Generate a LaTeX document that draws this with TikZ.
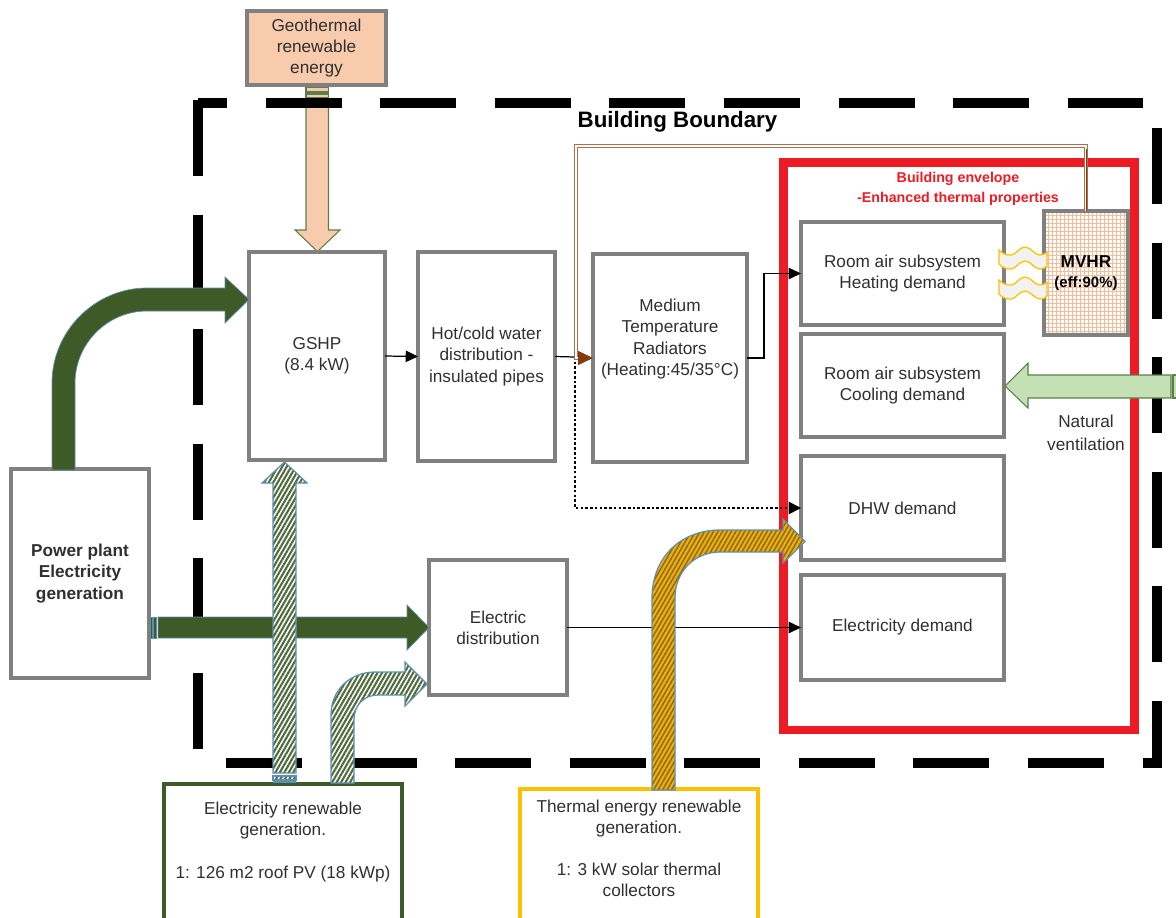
\documentclass[tikz,border=0pt]{standalone}
\usepackage{fontspec}
\setmainfont{Liberation Sans}
\usetikzlibrary{patterns.meta,arrows.meta}
\definecolor{txt}{HTML}{303030}
\definecolor{boxgray}{HTML}{808080}
\definecolor{peach}{HTML}{F8CBAD}
\definecolor{dkgreen}{HTML}{3D5A27}
\definecolor{ltgreen}{HTML}{C5E0B4}
\definecolor{arrowedge}{HTML}{5B7F4A}
\definecolor{blueedge}{HTML}{5F8FB0}
\definecolor{redframe}{HTML}{ED1C24}
\definecolor{gold}{HTML}{FFC000}
\definecolor{goldbase}{HTML}{EDAE10}
\definecolor{goldline}{HTML}{8A6A10}
\definecolor{brownc}{HTML}{843C0C}
\definecolor{tanc}{HTML}{A9714B}
\definecolor{gridc}{HTML}{F6BE98}
\tikzset{
  boxn/.style={draw=boxgray,line width=1.9pt,inner sep=0pt,outer sep=0pt,fill=white,align=center,text=txt,font=\fontsize{9.8}{12}\selectfont},
  lbl/.style={inner sep=0pt,align=center,text=txt,font=\fontsize{9.8}{12}\selectfont},
  boundary/.style={line width=5.5pt,black,dash pattern=on 43.25pt off 21.96pt},
  conn/.style={black,line width=0.7pt,-{Triangle[length=7pt,width=6.5pt]}},
  connplain/.style={black,line width=0.7pt},
  peacharrow/.style={fill=peach,draw=arrowedge,line width=0.6pt},
  greenarrow/.style={fill=ltgreen,draw=arrowedge,line width=0.6pt},
  darkarrow/.style={fill=dkgreen,draw=blueedge,line width=0.4pt},
  hatchgreen/.style={pattern={Lines[angle=60,distance=2.2pt,line width=1.2pt]},pattern color=dkgreen!90,draw=blueedge,line width=0.7pt},
  hatchgold/.style={pattern={Lines[angle=60,distance=2.2pt,line width=0.8pt]},pattern color=goldline,draw=blueedge,line width=0.7pt},
  wave/.style={fill=white!95!black,draw=gold,line width=0.7pt},
  gridline/.style={gridc,line width=0.35pt},
}
\newcommand{\bx}[7][]{\node[boxn,#1,minimum width={(#5-#3)*0.02cm},minimum height={(#6-#4)*0.02cm}] (#2) at ({(#3+#5)/2},{(#4+#6)/2}) {#7};}
\begin{document}
\begin{tikzpicture}[x=0.02cm,y=-0.02cm]
\clip (0,0) rectangle (1176,917);
\fill[white] (0,0) rectangle (1176,917);

% geothermal arrow lies under the boundary
\draw[peacharrow] (306,98) -- (306,230) -- (295,230) -- (317.5,251.5) -- (340,230) -- (328.5,230) -- (328.5,98) -- cycle;
\draw[peacharrow] (306,87) rectangle (328.5,92);
\draw[peacharrow] (306,94) rectangle (328.5,98);

% building boundary
\coordinate (bTL) at (198,103);
\coordinate (bTR) at (1143,103);
\coordinate (bBL) at (226,763);
\coordinate (bBR) at (1162,763);
\coordinate (bRT) at (1157,128);
\coordinate (bRB) at (1157,767);
\coordinate (bLB) at (198,760);
\draw[boundary,dash phase=26.7pt] (bTL) -- (bTR);
\draw[boundary] (198,100) -- (bLB);
\draw[boundary] (bBL) -- (bBR);
\draw[boundary] (bRT) -- (bRB);

% envelope
\draw[redframe,line width=5pt] (783.5,162.5) rectangle (1134.5,730);

% boxes
\bx[fill=peach]{geo}{247}{11}{386}{85}{Geothermal\\renewable\\energy}
\bx{gshp}{249}{252}{385}{460}{GSHP\\(8.4 kW)}
\bx{hot}{418}{252}{555}{461}{Hot/cold water\\distribution -\\insulated pipes}
\bx{med}{593}{254}{747}{462}{}
\node[lbl] (medtext) at (670,339) {Medium\\Temperature\\Radiators\\(Heating:45/35°C)};
\bx{plant}{11}{469}{149}{678}{\bfseries Power plant\\\bfseries Electricity\\\bfseries generation}
\bx{edist}{429}{560}{567}{695}{Electric\\distribution}
\bx{heat}{801}{222}{1004}{325}{Room air subsystem\\Heating demand}
\bx{cool}{801}{334}{1004}{437}{Room air subsystem\\Cooling demand}
\bx{dhw}{801}{456}{1004}{560}{DHW demand}
\bx{elec}{801}{575}{1004}{680}{Electricity demand}
\foreach \gx in {1048,1052,...,1126} {\draw[gridline] (\gx,211) -- (\gx,335);}
\foreach \gy in {215,219,...,333} {\draw[gridline] (1044,\gy) -- (1128,\gy);}
\bx[fill=none]{mvhr}{1044}{211}{1128}{335}{}
\bx[draw=dkgreen]{eren}{164}{784}{402}{930}{}
\bx[draw=gold]{tren}{520}{789}{758}{930}{}

% heat-exchange waves
\draw[wave] (999,250) .. controls (1003,254) and (1006,255) .. (1011,255) .. controls (1016,255) and (1019,247) .. (1025,247) .. controls (1031,247) and (1034,255) .. (1040,255) .. controls (1043,255) and (1045,254) .. (1047,252)
  -- (1047,266) .. controls (1045,268) and (1043,269) .. (1040,269) .. controls (1034,269) and (1031,261) .. (1025,261) .. controls (1019,261) and (1016,269) .. (1011,269) .. controls (1006,269) and (1003,268) .. (999,264) -- cycle;
\draw[wave] (999,280) .. controls (1003,284) and (1006,285) .. (1011,285) .. controls (1016,285) and (1019,277) .. (1025,277) .. controls (1031,277) and (1034,285) .. (1040,285) .. controls (1043,285) and (1045,284) .. (1047,282)
  -- (1047,296) .. controls (1045,298) and (1043,299) .. (1040,299) .. controls (1034,299) and (1031,291) .. (1025,291) .. controls (1019,291) and (1016,299) .. (1011,299) .. controls (1006,299) and (1003,298) .. (999,294) -- cycle;

% texts of boxes set apart
\node[lbl,font=\fontsize{8.5}{11.5}\selectfont\bfseries,text=black] (mvhrtext) at (1086,273) {{\fontsize{9.8}{12}\selectfont MVHR}\\(eff:90\%)};
\node[lbl] (erentext) at (283,842) {Electricity renewable\\generation.\\[12pt]1: 126 m2 roof PV (18 kWp)};
\node[lbl] (trentext) at (639,848) {Thermal energy renewable\\generation.\\[12pt]1: 3 kW solar thermal\\collectors};
\node[lbl,text=black,font=\fontsize{12.7}{15}\selectfont\bfseries] (bb) at (677.5,122) {Building Boundary};
\node[lbl,text=redframe,font=\fontsize{8.1}{11.5}\selectfont\bfseries] (envtext) at (958,189) {Building envelope\\-Enhanced thermal properties};
\node[lbl,font=\fontsize{9.8}{13}\selectfont] (vent) at (1086,433) {Natural\\ventilation};

% plain connectors
\coordinate (junc) at (575,357);
\coordinate (brownturn) at (576,146);
\draw[conn] (gshp.east) -- (hot.west);
\draw[connplain] (hot.east) -- (junc);
\draw[black,line width=0.9pt,dash pattern=on 1.5pt off 1.2pt,-{Triangle[length=7pt,width=7pt]}] (junc) |- (dhw.west);
\draw[conn] (med.east) -- ++(17,0) |- (heat.west);
\draw[conn] (edist.east) -- (elec.west);
% heat recovery connector
\draw[tanc,line width=0.65pt,double=white,double distance=0.6pt] (mvhr.north) |- (brownturn) -- (brownturn |- med.west) -- ++(4,0);
\draw[brownc,line width=0.5pt] (mvhr.north) -- ++(0,-62);
\coordinate (bhead) at (578,358);
\draw[brownc,line width=0.5pt,-{Triangle[length=8.5pt,width=8pt]}] (bhead) -- (med.west);

% block arrows: grid electricity
\draw[darkarrow] (52,470) -- (52,383) .. controls (52,331) and (95,288) .. (147,288) -- (225,288) -- (225,277) -- (249,299.5) -- (225,323) -- (225,311) -- (147,311) .. controls (107,311) and (75,344) .. (75,383) -- (75,470) -- cycle;
\draw[darkarrow] (158,617) -- (407,617) -- (407,605) -- (429,627.5) -- (407,650) -- (407,638) -- (158,638) -- cycle;
\draw[darkarrow] (150,617) rectangle (152.5,638);
\draw[darkarrow] (153.5,617) rectangle (156.5,638);

% block arrows: renewable electricity
\fill[white] (273,777) -- (273,483) -- (262,483) -- (284.5,462) -- (307,483) -- (296,483) -- (296,777) -- cycle;
\path[hatchgreen] (273,773) -- (273,483) -- (262,483) -- (284.5,462) -- (307,483) -- (296,483) -- (296,773) -- cycle;
\fill[white] (273,776) rectangle (296,782);
\path[hatchgreen] (273,776) rectangle (296,780);
\draw[blueedge,line width=1pt] (273,782) -- (296,782);
\fill[white] (331,783) -- (331,715) .. controls (331,690) and (350,672) .. (375,672) -- (405,672) -- (405,662) -- (427,684) -- (405,706) -- (405,695) -- (378,695) .. controls (364,695) and (354,705) .. (354,720) -- (354,783) -- cycle;
\path[hatchgreen] (331,783) -- (331,715) .. controls (331,690) and (350,672) .. (375,672) -- (405,672) -- (405,662) -- (427,684) -- (405,706) -- (405,695) -- (378,695) .. controls (364,695) and (354,705) .. (354,720) -- (354,783) -- cycle;

% block arrow: solar thermal
\fill[goldbase] (652,790) -- (652,598) .. controls (652,558) and (680,530) .. (720,530) -- (783,530) -- (783,519) -- (805,541.5) -- (783,563) -- (783,552) -- (720,552) .. controls (695,552) and (675,571) .. (675,598) -- (675,790) -- cycle;
\path[hatchgold] (652,790) -- (652,598) .. controls (652,558) and (680,530) .. (720,530) -- (783,530) -- (783,519) -- (805,541.5) -- (783,563) -- (783,552) -- (720,552) .. controls (695,552) and (675,571) .. (675,598) -- (675,790) -- cycle;

% block arrow: natural ventilation
\draw[greenarrow] (1171,375) -- (1028,375) -- (1028,363) -- (1005,386) -- (1028,408) -- (1028,398) -- (1171,398) -- cycle;
\draw[greenarrow] (1173,375) rectangle (1180,398);
\end{tikzpicture}
\end{document}
